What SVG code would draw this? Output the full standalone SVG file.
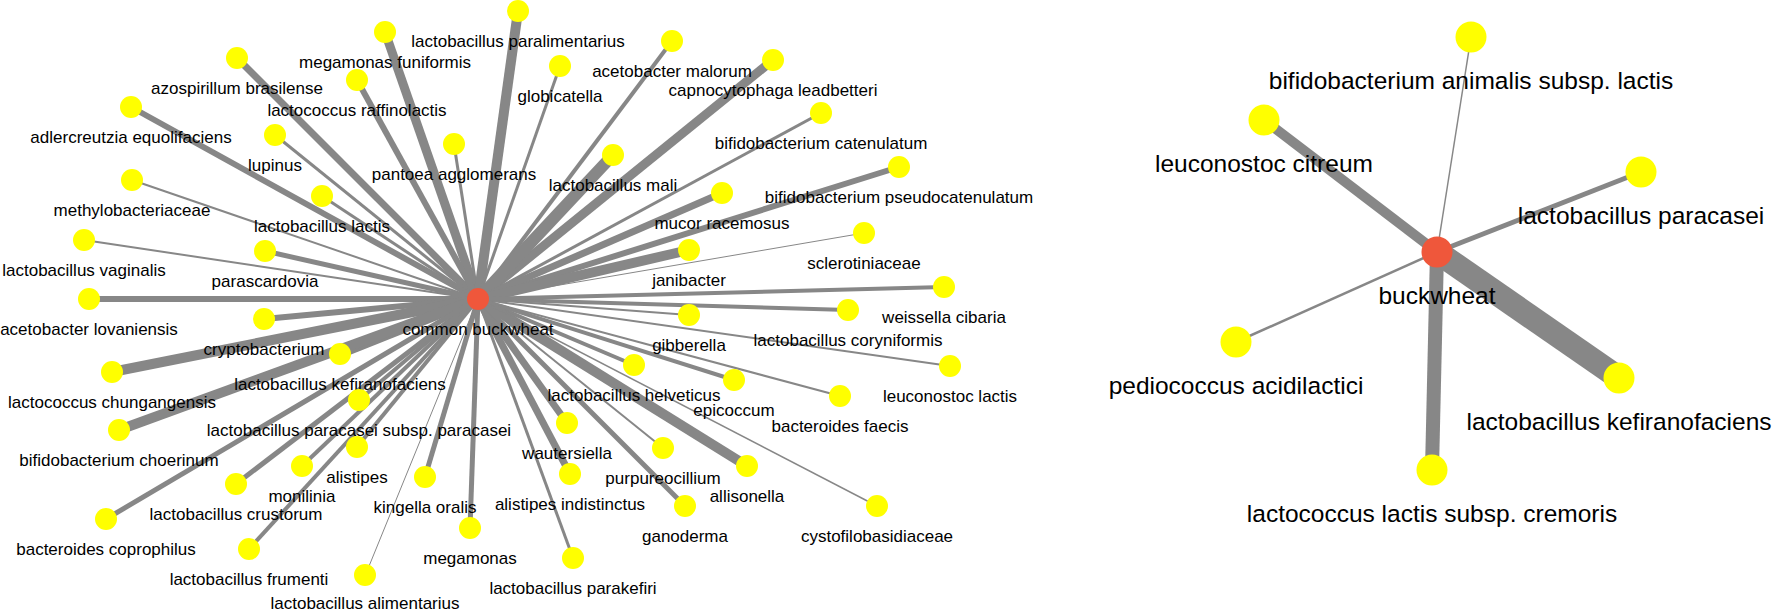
<svg xmlns="http://www.w3.org/2000/svg" width="1772" height="612" viewBox="0 0 1772 612">
<style>
.bg{fill:#ffffff}
.e{stroke:#878787;stroke-linecap:butt;fill:none}
.n{fill:#ffff00}
.h{fill:#ef573b}
.t{font-family:"Liberation Sans",Arial,Helvetica,sans-serif;font-size:17px;fill:#000;text-anchor:middle}
.T{font-family:"Liberation Sans",Arial,Helvetica,sans-serif;font-size:24.5px;fill:#000;text-anchor:middle}
</style>
<rect class="bg" x="0" y="0" width="1772" height="612"/>
<g id="edges-left">
<line class="e" x1="478" y1="299" x2="385" y2="32" stroke-width="9"/>
<line class="e" x1="478" y1="299" x2="237" y2="58" stroke-width="7"/>
<line class="e" x1="478" y1="299" x2="357" y2="80" stroke-width="6"/>
<line class="e" x1="478" y1="299" x2="131" y2="107" stroke-width="6"/>
<line class="e" x1="478" y1="299" x2="275" y2="135" stroke-width="3"/>
<line class="e" x1="478" y1="299" x2="454" y2="144" stroke-width="3"/>
<line class="e" x1="478" y1="299" x2="132" y2="180" stroke-width="2"/>
<line class="e" x1="478" y1="299" x2="322" y2="196" stroke-width="3"/>
<line class="e" x1="478" y1="299" x2="84" y2="240" stroke-width="2"/>
<line class="e" x1="478" y1="299" x2="265" y2="251" stroke-width="5"/>
<line class="e" x1="478" y1="299" x2="89" y2="299" stroke-width="6"/>
<line class="e" x1="478" y1="299" x2="264" y2="319" stroke-width="6"/>
<line class="e" x1="478" y1="299" x2="112" y2="372" stroke-width="10"/>
<line class="e" x1="478" y1="299" x2="340" y2="354" stroke-width="9"/>
<line class="e" x1="478" y1="299" x2="119" y2="430" stroke-width="10"/>
<line class="e" x1="478" y1="299" x2="359" y2="400" stroke-width="4"/>
<line class="e" x1="478" y1="299" x2="357" y2="447" stroke-width="4"/>
<line class="e" x1="478" y1="299" x2="302" y2="466" stroke-width="4"/>
<line class="e" x1="478" y1="299" x2="236" y2="484" stroke-width="5"/>
<line class="e" x1="478" y1="299" x2="425" y2="477" stroke-width="5"/>
<line class="e" x1="478" y1="299" x2="106" y2="519" stroke-width="5"/>
<line class="e" x1="478" y1="299" x2="249" y2="549" stroke-width="4"/>
<line class="e" x1="478" y1="299" x2="365" y2="576" stroke-width="1"/>
<line class="e" x1="478" y1="299" x2="470" y2="528" stroke-width="5"/>
<line class="e" x1="478" y1="299" x2="689" y2="315" stroke-width="2"/>
<line class="e" x1="478" y1="299" x2="848" y2="310" stroke-width="4"/>
<line class="e" x1="478" y1="299" x2="950" y2="366" stroke-width="2"/>
<line class="e" x1="478" y1="299" x2="634" y2="365" stroke-width="4"/>
<line class="e" x1="478" y1="299" x2="734" y2="380" stroke-width="4"/>
<line class="e" x1="478" y1="299" x2="840" y2="396" stroke-width="2"/>
<line class="e" x1="478" y1="299" x2="567" y2="423" stroke-width="7"/>
<line class="e" x1="478" y1="299" x2="570" y2="474" stroke-width="7"/>
<line class="e" x1="478" y1="299" x2="663" y2="448" stroke-width="2"/>
<line class="e" x1="478" y1="299" x2="747" y2="466" stroke-width="10"/>
<line class="e" x1="478" y1="299" x2="685" y2="506" stroke-width="5"/>
<line class="e" x1="478" y1="299" x2="877" y2="506" stroke-width="1.5"/>
<line class="e" x1="478" y1="299" x2="573" y2="558" stroke-width="3"/>
<line class="e" x1="478" y1="299" x2="518" y2="11" stroke-width="10"/>
<line class="e" x1="478" y1="299" x2="560" y2="66" stroke-width="3"/>
<line class="e" x1="478" y1="299" x2="672" y2="41" stroke-width="4"/>
<line class="e" x1="478" y1="299" x2="773" y2="60" stroke-width="9"/>
<line class="e" x1="478" y1="299" x2="821" y2="113" stroke-width="3"/>
<line class="e" x1="478" y1="299" x2="613" y2="155" stroke-width="12"/>
<line class="e" x1="478" y1="299" x2="899" y2="167" stroke-width="6"/>
<line class="e" x1="478" y1="299" x2="722" y2="193" stroke-width="7"/>
<line class="e" x1="478" y1="299" x2="864" y2="233" stroke-width="1"/>
<line class="e" x1="478" y1="299" x2="689" y2="250" stroke-width="10"/>
<line class="e" x1="478" y1="299" x2="944" y2="287" stroke-width="4"/>
</g>
<g id="edges-right">
<line class="e" x1="1437" y1="252" x2="1264" y2="120" stroke-width="10"/>
<line class="e" x1="1437" y1="252" x2="1471" y2="37" stroke-width="1.5"/>
<line class="e" x1="1437" y1="252" x2="1641" y2="172" stroke-width="5"/>
<line class="e" x1="1437" y1="252" x2="1236" y2="342" stroke-width="2.5"/>
<line class="e" x1="1437" y1="252" x2="1432" y2="470" stroke-width="14"/>
<line class="e" x1="1437" y1="252" x2="1619" y2="378" stroke-width="24"/>
</g>
<g id="n-megamonas-funiformis"><circle class="n" cx="385" cy="32" r="11"/><text class="t" x="385" y="68">megamonas funiformis</text></g>
<g id="n-azospirillum-brasilense"><circle class="n" cx="237" cy="58" r="11"/><text class="t" x="237" y="94">azospirillum brasilense</text></g>
<g id="n-lactococcus-raffinolactis"><circle class="n" cx="357" cy="80" r="11"/><text class="t" x="357" y="116">lactococcus raffinolactis</text></g>
<g id="n-adlercreutzia-equolifaciens"><circle class="n" cx="131" cy="107" r="11"/><text class="t" x="131" y="143">adlercreutzia equolifaciens</text></g>
<g id="n-lupinus"><circle class="n" cx="275" cy="135" r="11"/><text class="t" x="275" y="171">lupinus</text></g>
<g id="n-pantoea-agglomerans"><circle class="n" cx="454" cy="144" r="11"/><text class="t" x="454" y="180">pantoea agglomerans</text></g>
<g id="n-methylobacteriaceae"><circle class="n" cx="132" cy="180" r="11"/><text class="t" x="132" y="216">methylobacteriaceae</text></g>
<g id="n-lactobacillus-lactis"><circle class="n" cx="322" cy="196" r="11"/><text class="t" x="322" y="232">lactobacillus lactis</text></g>
<g id="n-lactobacillus-vaginalis"><circle class="n" cx="84" cy="240" r="11"/><text class="t" x="84" y="276">lactobacillus vaginalis</text></g>
<g id="n-parascardovia"><circle class="n" cx="265" cy="251" r="11"/><text class="t" x="265" y="287">parascardovia</text></g>
<g id="n-acetobacter-lovaniensis"><circle class="n" cx="89" cy="299" r="11"/><text class="t" x="89" y="335">acetobacter lovaniensis</text></g>
<g id="n-cryptobacterium"><circle class="n" cx="264" cy="319" r="11"/><text class="t" x="264" y="355">cryptobacterium</text></g>
<g id="n-lactococcus-chungangensis"><circle class="n" cx="112" cy="372" r="11"/><text class="t" x="112" y="408">lactococcus chungangensis</text></g>
<g id="n-lactobacillus-kefiranofaciens"><circle class="n" cx="340" cy="354" r="11"/><text class="t" x="340" y="390">lactobacillus kefiranofaciens</text></g>
<g id="n-bifidobacterium-choerinum"><circle class="n" cx="119" cy="430" r="11"/><text class="t" x="119" y="466">bifidobacterium choerinum</text></g>
<g id="n-lactobacillus-paracasei-subsp-paracasei"><circle class="n" cx="359" cy="400" r="11"/><text class="t" x="359" y="436">lactobacillus paracasei subsp. paracasei</text></g>
<g id="n-alistipes"><circle class="n" cx="357" cy="447" r="11"/><text class="t" x="357" y="483">alistipes</text></g>
<g id="n-monilinia"><circle class="n" cx="302" cy="466" r="11"/><text class="t" x="302" y="502">monilinia</text></g>
<g id="n-lactobacillus-crustorum"><circle class="n" cx="236" cy="484" r="11"/><text class="t" x="236" y="520">lactobacillus crustorum</text></g>
<g id="n-kingella-oralis"><circle class="n" cx="425" cy="477" r="11"/><text class="t" x="425" y="513">kingella oralis</text></g>
<g id="n-bacteroides-coprophilus"><circle class="n" cx="106" cy="519" r="11"/><text class="t" x="106" y="555">bacteroides coprophilus</text></g>
<g id="n-lactobacillus-frumenti"><circle class="n" cx="249" cy="549" r="11"/><text class="t" x="249" y="585">lactobacillus frumenti</text></g>
<g id="n-lactobacillus-alimentarius"><circle class="n" cx="365" cy="575" r="11"/><text class="t" x="365" y="609">lactobacillus alimentarius</text></g>
<g id="n-megamonas"><circle class="n" cx="470" cy="528" r="11"/><text class="t" x="470" y="564">megamonas</text></g>
<g id="n-gibberella"><circle class="n" cx="689" cy="315" r="11"/><text class="t" x="689" y="351">gibberella</text></g>
<g id="n-lactobacillus-coryniformis"><circle class="n" cx="848" cy="310" r="11"/><text class="t" x="848" y="346">lactobacillus coryniformis</text></g>
<g id="n-leuconostoc-lactis"><circle class="n" cx="950" cy="366" r="11"/><text class="t" x="950" y="402">leuconostoc lactis</text></g>
<g id="n-lactobacillus-helveticus"><circle class="n" cx="634" cy="365" r="11"/><text class="t" x="634" y="401">lactobacillus helveticus</text></g>
<g id="n-epicoccum"><circle class="n" cx="734" cy="380" r="11"/><text class="t" x="734" y="416">epicoccum</text></g>
<g id="n-bacteroides-faecis"><circle class="n" cx="840" cy="396" r="11"/><text class="t" x="840" y="432">bacteroides faecis</text></g>
<g id="n-wautersiella"><circle class="n" cx="567" cy="423" r="11"/><text class="t" x="567" y="459">wautersiella</text></g>
<g id="n-alistipes-indistinctus"><circle class="n" cx="570" cy="474" r="11"/><text class="t" x="570" y="510">alistipes indistinctus</text></g>
<g id="n-purpureocillium"><circle class="n" cx="663" cy="448" r="11"/><text class="t" x="663" y="484">purpureocillium</text></g>
<g id="n-allisonella"><circle class="n" cx="747" cy="466" r="11"/><text class="t" x="747" y="502">allisonella</text></g>
<g id="n-ganoderma"><circle class="n" cx="685" cy="506" r="11"/><text class="t" x="685" y="542">ganoderma</text></g>
<g id="n-cystofilobasidiaceae"><circle class="n" cx="877" cy="506" r="11"/><text class="t" x="877" y="542">cystofilobasidiaceae</text></g>
<g id="n-lactobacillus-parakefiri"><circle class="n" cx="573" cy="558" r="11"/><text class="t" x="573" y="594">lactobacillus parakefiri</text></g>
<g id="n-lactobacillus-paralimentarius"><circle class="n" cx="518" cy="11" r="11"/><text class="t" x="518" y="47">lactobacillus paralimentarius</text></g>
<g id="n-globicatella"><circle class="n" cx="560" cy="66" r="11"/><text class="t" x="560" y="102">globicatella</text></g>
<g id="n-acetobacter-malorum"><circle class="n" cx="672" cy="41" r="11"/><text class="t" x="672" y="77">acetobacter malorum</text></g>
<g id="n-capnocytophaga-leadbetteri"><circle class="n" cx="773" cy="60" r="11"/><text class="t" x="773" y="96">capnocytophaga leadbetteri</text></g>
<g id="n-bifidobacterium-catenulatum"><circle class="n" cx="821" cy="113" r="11"/><text class="t" x="821" y="149">bifidobacterium catenulatum</text></g>
<g id="n-lactobacillus-mali"><circle class="n" cx="613" cy="155" r="11"/><text class="t" x="613" y="191">lactobacillus mali</text></g>
<g id="n-bifidobacterium-pseudocatenulatum"><circle class="n" cx="899" cy="167" r="11"/><text class="t" x="899" y="203">bifidobacterium pseudocatenulatum</text></g>
<g id="n-mucor-racemosus"><circle class="n" cx="722" cy="193" r="11"/><text class="t" x="722" y="229">mucor racemosus</text></g>
<g id="n-sclerotiniaceae"><circle class="n" cx="864" cy="233" r="11"/><text class="t" x="864" y="269">sclerotiniaceae</text></g>
<g id="n-janibacter"><circle class="n" cx="689" cy="250" r="11"/><text class="t" x="689" y="286">janibacter</text></g>
<g id="n-weissella-cibaria"><circle class="n" cx="944" cy="287" r="11"/><text class="t" x="944" y="323">weissella cibaria</text></g>
<g id="n-common-buckwheat"><circle class="h" cx="478" cy="299" r="11"/><text class="t" x="478" y="335">common buckwheat</text></g>
<g id="n-leuconostoc-citreum"><circle class="n" cx="1264" cy="120" r="15.5"/><text class="T" x="1264" y="172">leuconostoc citreum</text></g>
<g id="n-bifidobacterium-animalis-subsp-lactis"><circle class="n" cx="1471" cy="37" r="15.5"/><text class="T" x="1471" y="89">bifidobacterium animalis subsp. lactis</text></g>
<g id="n-lactobacillus-paracasei"><circle class="n" cx="1641" cy="172" r="15.5"/><text class="T" x="1641" y="224">lactobacillus paracasei</text></g>
<g id="n-pediococcus-acidilactici"><circle class="n" cx="1236" cy="342" r="15.5"/><text class="T" x="1236" y="394">pediococcus acidilactici</text></g>
<g id="n-lactococcus-lactis-subsp-cremoris"><circle class="n" cx="1432" cy="470" r="15.5"/><text class="T" x="1432" y="522">lactococcus lactis subsp. cremoris</text></g>
<g id="n-lactobacillus-kefiranofaciens-r"><circle class="n" cx="1619" cy="378" r="15.5"/><text class="T" x="1619" y="430">lactobacillus kefiranofaciens</text></g>
<g id="n-buckwheat"><circle class="h" cx="1437" cy="252" r="15.5"/><text class="T" x="1437" y="304">buckwheat</text></g>
</svg>
